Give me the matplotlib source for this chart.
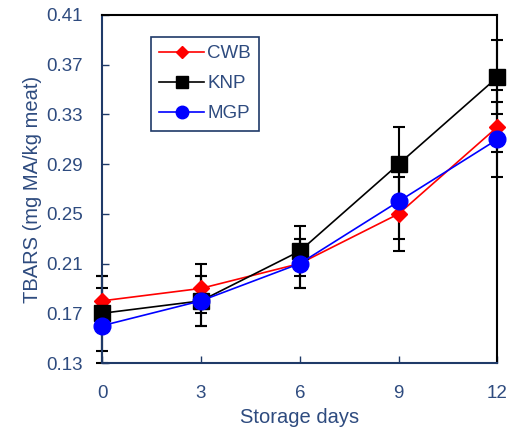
import numpy as np
import matplotlib
matplotlib.use("Agg")
import matplotlib.pyplot as plt

plt.rcParams['font.family'] = ['Liberation Sans', 'DejaVu Sans']

NAVY = '#2E4B7F'
SPINE = '#1F3A68'

days = [0, 3, 6, 9, 12]

cwb = [0.18, 0.19, 0.21, 0.25, 0.32]
cwb_lo = [0.02, 0.02, 0.02, 0.03, 0.02]
cwb_hi = [0.02, 0.02, 0.02, 0.03, 0.03]

knp = [0.17, 0.18, 0.22, 0.29, 0.36]
knp_err = [0.03, 0.02, 0.02, 0.03, 0.03]

mgp = [0.16, 0.18, 0.21, 0.26, 0.31]
mgp_err = [0.03, 0.02, 0.02, 0.03, 0.03]

yticks = [0.13, 0.17, 0.21, 0.25, 0.29, 0.33, 0.37, 0.41]

fig = plt.figure(figsize=(5.09, 4.32), dpi=100)
ax = fig.add_axes([0.2004, 0.1597, 0.7770, 0.8056])

series = [
    ("CWB", cwb, [cwb_lo, cwb_hi], 'red', 'D', 8.0),
    ("KNP", knp, knp_err, 'black', 's', 11.5),
    ("MGP", mgp, mgp_err, 'blue', 'o', 12.0),
]

# error bars sit underneath all the lines and markers
for name, vals, err, col, mk, ms in series:
    ax.errorbar(days, vals, yerr=err, fmt='none', ecolor='black',
                elinewidth=1.5, capsize=4, capthick=1.5, zorder=2, clip_on=False)

for i, (name, vals, err, col, mk, ms) in enumerate(series):
    ax.plot(days, vals, color=col, marker=mk, markersize=ms, lw=1.2,
            label=name, zorder=3 + i, clip_on=False)

ax.set_xlim(0, 12)
ax.set_ylim(0.13, 0.41)
ax.set_xticks(days)
ax.set_yticks(yticks)
ax.set_yticklabels([f"{t:.2f}" for t in yticks])

ax.tick_params(direction='in', length=5, width=1, pad=14, labelsize=13.5,
               colors=SPINE, labelcolor=NAVY)
ax.tick_params(axis='x', pad=16)

for side in ['left', 'bottom']:
    ax.spines[side].set_color(SPINE)
    ax.spines[side].set_linewidth(1.5)
for side in ['top', 'right']:
    ax.spines[side].set_color('black')
    ax.spines[side].set_linewidth(1.5)

ax.set_xlabel("Storage days", fontsize=14.5, color=NAVY, labelpad=4)
ax.set_ylabel("TBARS (mg MA/kg meat)", fontsize=14.5, color=NAVY)
ax.yaxis.set_label_coords(-0.152, 0.5)

leg = ax.legend(loc='upper left', bbox_to_anchor=(0.124, 0.937), fontsize=13.5,
                markerscale=0.75, handlelength=2.35, handletextpad=0.2,
                labelspacing=0.68, borderpad=0.45, borderaxespad=0,
                fancybox=False, framealpha=1, labelcolor=NAVY)
leg.get_frame().set_edgecolor(SPINE)
leg.get_frame().set_linewidth(1.2)

fig.savefig("out.png", dpi=100)
